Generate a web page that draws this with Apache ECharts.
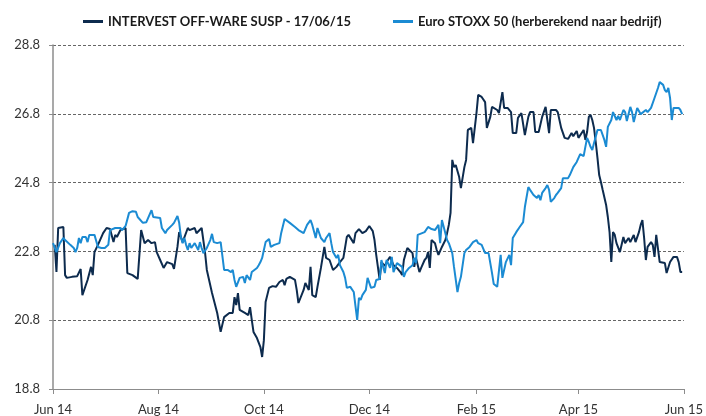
<!DOCTYPE html>
<html>
<head>
<meta charset="utf-8">
<script src="https://cdn.jsdelivr.net/npm/echarts@6/dist/echarts.min.js"></script>
<style>
html,body{margin:0;padding:0;background:#fff;}
#chart{width:706px;height:416px;}
</style>
</head>
<body>
<div id="chart"></div>
<script>
// Start of the x range; day offsets below are days since this date.
const startDate = '2014-06-17';

const seriesNames = ['INTERVEST OFF-WARE SUSP - 17/06/15', 'Euro STOXX 50 (herberekend naar bedrijf)'];

// INTERVEST (days since start, price)
const intervestDays = [1,2,3,4,6,7,8,11,14,16,17,20,22,23,24,26,29,31,33,35,36,37,39,42,43,46,49,50,51,53,55,57,59,60,62,64,66,69,70,72,73,75,78,79,82,83,86,88,89,92,95,97,99,102,104,105,106,107,108,111,113,114,115,116,118,120,121,122,123,125,127,129,131,133,134,135,137,140,141,142,145,146,148,149,150,152,153,155,157,158,160,162,164,166,168,170,171,174,175,177,179,181,183,185,186,187,189,190,192,193,195,197,199,201,202,203,205,206,208,209,210,212,213,215,216,217,218,219,221,222,223,225,227,228,229,230,231,232,233,235,236,238,239,240,242,243,245,246,248,250,251,253,254,257,258,260,261,263,265,266,268,269,271,273,275,276,278,279,281,283,285,286,287,288,291,292,294,296,298,300,301,303,304,305,307,308,309,310,311,312,313,314,315,316,317,318,320,321,322,323,324,325,326,328,330,331,333,334,336,337,339,340,341,342,343,344,346,347,348,349,351,352,354,355,357,359,361,362,363,364];
const intervestValues = [22.99,22.2,23.48,23.51,23.51,22.11,22.03,22.06,22.08,22.29,21.53,21.97,22.35,22.11,22.78,22.99,23.33,23.48,23.45,23.07,23.28,23.22,23.42,23.48,22.17,22.11,22.0,22.03,23.42,23.04,23.13,23.04,23.07,22.78,22.55,22.32,22.49,22.43,22.29,22.93,23.36,23.07,23.48,23.42,23.48,23.33,23.48,22.75,22.26,21.59,21.01,20.46,20.89,21.01,21.01,21.47,21.24,21.59,21.1,21.01,20.95,21.18,20.81,20.46,20.28,20.02,19.73,20.22,21.33,21.74,21.79,21.77,21.91,21.97,21.82,22.0,22.06,21.97,21.68,21.3,21.68,21.88,21.68,22.35,21.53,21.47,21.77,22.32,22.93,22.61,22.55,22.26,22.35,22.49,22.61,23.22,23.28,23.04,23.33,23.45,23.33,23.39,23.54,23.39,23.13,22.7,21.97,22.49,22.38,22.49,22.64,22.4,22.32,22.2,22.11,22.55,22.9,22.87,22.75,22.35,22.61,22.2,22.32,22.55,22.61,22.78,22.32,23.13,23.04,22.84,22.7,22.93,23.13,23.33,23.57,23.92,25.46,25.25,25.31,24.96,24.64,25.25,25.46,26.33,26.39,25.95,26.82,27.35,27.29,27.14,26.39,26.71,27.0,26.91,26.82,27.43,26.97,26.97,26.85,26.24,26.24,26.68,26.82,26.18,26.71,26.85,26.85,26.27,26.27,26.71,27.0,26.97,26.24,26.91,26.91,26.85,26.39,26.1,26.07,26.24,26.15,26.3,26.1,26.1,26.33,26.04,26.27,26.71,26.77,26.62,26.39,25.98,25.52,25.02,24.82,24.59,24.15,23.8,23.36,22.49,23.36,23.28,23.04,22.78,23.22,23.04,23.19,23.07,23.28,23.07,23.36,23.57,23.71,23.19,22.55,22.93,23.07,22.99,22.64,23.28,22.49,22.49,22.46,22.17,22.49,22.64,22.64,22.49,22.2,22.2];

// Euro STOXX 50 rebased (days since start, value)
const stoxxDays = [0,1,2,4,6,7,10,12,13,14,15,16,17,19,20,21,24,26,28,30,32,33,36,39,40,42,44,46,48,49,50,52,54,55,57,58,59,62,63,65,66,69,70,72,73,74,75,76,77,78,79,80,82,84,85,86,87,89,91,92,93,95,97,98,99,101,103,104,105,106,108,110,111,112,114,115,118,119,120,121,122,123,125,126,128,131,132,134,137,140,142,145,147,149,150,152,153,155,156,157,158,160,161,162,164,165,166,168,169,170,171,172,174,175,176,177,178,179,181,182,184,186,187,189,190,191,192,193,195,196,197,199,200,202,203,204,206,208,209,210,211,212,215,216,217,219,221,223,224,225,227,228,229,231,232,234,235,236,238,239,241,243,245,246,248,250,252,254,255,257,258,259,260,262,264,265,266,268,270,272,273,275,276,278,280,281,282,283,285,286,287,288,290,291,292,294,295,296,298,299,301,303,305,307,308,309,310,311,312,313,314,315,317,319,320,321,322,323,324,326,327,328,330,331,332,334,335,336,337,338,339,340,343,344,346,348,349,350,351,353,354,355,356,357,358,359,360,362,363,364];
const stoxxValues = [23.04,22.99,22.78,23.04,23.19,23.13,22.99,22.9,22.78,22.9,23.19,23.04,23.22,23.22,23.07,23.28,23.28,22.93,22.9,22.9,22.99,23.42,23.48,23.48,23.42,23.54,23.92,23.97,23.95,23.8,23.77,23.63,23.65,23.77,24.0,23.8,23.77,23.77,23.48,23.33,23.42,23.57,23.63,23.83,23.63,23.22,23.04,23.19,22.99,22.84,23.04,22.9,23.04,22.84,23.07,22.9,22.75,22.9,23.13,23.31,23.07,23.04,23.07,23.02,22.26,22.26,22.2,22.26,21.97,21.77,22.03,22.06,21.88,22.11,21.97,22.2,22.32,22.4,22.49,22.61,22.84,23.07,23.16,22.93,22.99,23.04,23.33,23.74,23.63,23.51,23.42,23.33,23.57,23.71,23.57,23.19,23.48,23.19,23.22,23.07,23.19,23.33,23.04,22.78,22.61,22.7,22.4,22.2,22.03,21.74,21.74,21.77,21.62,21.21,20.81,21.45,21.39,21.53,21.68,22.03,21.74,21.77,21.97,22.0,22.55,22.35,22.17,22.55,22.32,22.64,22.2,22.46,22.49,22.35,22.06,22.2,22.32,22.4,22.61,22.46,23.28,23.33,23.36,23.39,23.51,23.45,23.42,23.57,23.04,23.71,23.33,23.13,23.04,22.75,22.35,21.62,21.88,22.06,22.75,22.84,22.93,23.07,23.13,23.04,22.99,22.75,22.75,22.17,21.85,21.77,21.82,22.7,22.03,22.49,22.7,22.4,23.19,23.36,23.51,23.65,24.09,24.67,24.59,24.44,24.35,24.44,24.29,24.5,24.64,24.73,24.59,24.24,24.35,24.44,24.5,24.64,24.93,24.88,24.93,25.02,25.25,25.4,25.63,25.57,25.84,26.1,25.98,25.84,25.75,25.95,26.13,26.33,26.33,26.04,25.84,26.42,26.39,26.62,26.85,26.62,26.74,26.62,26.91,26.85,26.59,27.0,26.85,26.56,26.56,26.97,26.88,26.79,26.91,26.85,26.97,27.26,27.29,27.55,27.72,27.64,27.49,27.43,27.55,27.26,26.62,26.97,26.97,26.97,26.91,26.79];

const xTickDates = ['2014-06-17','2014-08-17','2014-10-17','2014-12-17','2015-02-17','2015-04-17','2015-06-17'];
const xTickLabels = ['Jun 14','Aug 14','Oct 14','Dec 14','Feb 15','Apr 15','Jun 15'];
const yMin = 18.8, yMax = 28.8, yStep = 2;

const DAY = 86400000;
const toTs = s => { const p = s.split('-').map(Number); return Date.UTC(p[0], p[1]-1, p[2]); };
const t0 = toTs(startDate);
// tick positions in days since start
const tickDays = xTickDates.map(s => Math.round((toTs(s) - t0) / DAY));
const pair = (days, vals) => days.map((d, i) => [d, vals[i]]);

const chart = echarts.init(document.getElementById('chart'), null, {renderer: 'canvas'});
const font = 'Lato, "Liberation Sans", sans-serif';
chart.setOption({
  animation: false,
  backgroundColor: '#ffffff',
  legend: {
    top: 10,
    left: 78,
    itemGap: 42,
    itemWidth: 20,
    itemHeight: 3,
    icon: 'rect',
    textStyle: {fontFamily: font, fontWeight: 'bold', fontSize: 13, color: '#1a1a1a'},
    data: seriesNames
  },
  grid: {left: 53, right: 21, top: 45, bottom: 27, containLabel: false},
  xAxis: {
    type: 'value',
    min: tickDays[0],
    max: tickDays[tickDays.length - 1],
    axisLine: {show: true, onZero: false, lineStyle: {color: '#8c8c8c', width: 1}},
    axisTick: {show: true, length: 5, lineStyle: {color: '#8c8c8c'}, customValues: tickDays},
    axisLabel: {
      customValues: tickDays,
      margin: 14,
      fontFamily: font, fontSize: 13, color: '#333',
      formatter: v => { const i = tickDays.indexOf(v); return i >= 0 ? xTickLabels[i] : ''; }
    },
    splitLine: {show: false}
  },
  yAxis: {
    type: 'value',
    min: yMin, max: yMax, interval: yStep,
    axisLine: {show: true, lineStyle: {color: '#8c8c8c', width: 1.5}},
    axisTick: {show: true, length: 4, lineStyle: {color: '#8c8c8c'}},
    axisLabel: {margin: 13, fontFamily: font, fontSize: 13, color: '#333', formatter: v => v.toFixed(1)},
    splitLine: {show: true, lineStyle: {color: '#666', width: 1, type: [3, 2]}}
  },
  series: [
    {name: seriesNames[0], type: 'line', data: pair(intervestDays, intervestValues), showSymbol: false, symbol: 'none',
     lineStyle: {color: '#0d2b4e', width: 2}, itemStyle: {color: '#0d2b4e'}},
    {name: seriesNames[1], type: 'line', data: pair(stoxxDays, stoxxValues), showSymbol: false, symbol: 'none',
     lineStyle: {color: '#1b8bd3', width: 2}, itemStyle: {color: '#1b8bd3'}}
  ]
});
</script>
</body>
</html>
